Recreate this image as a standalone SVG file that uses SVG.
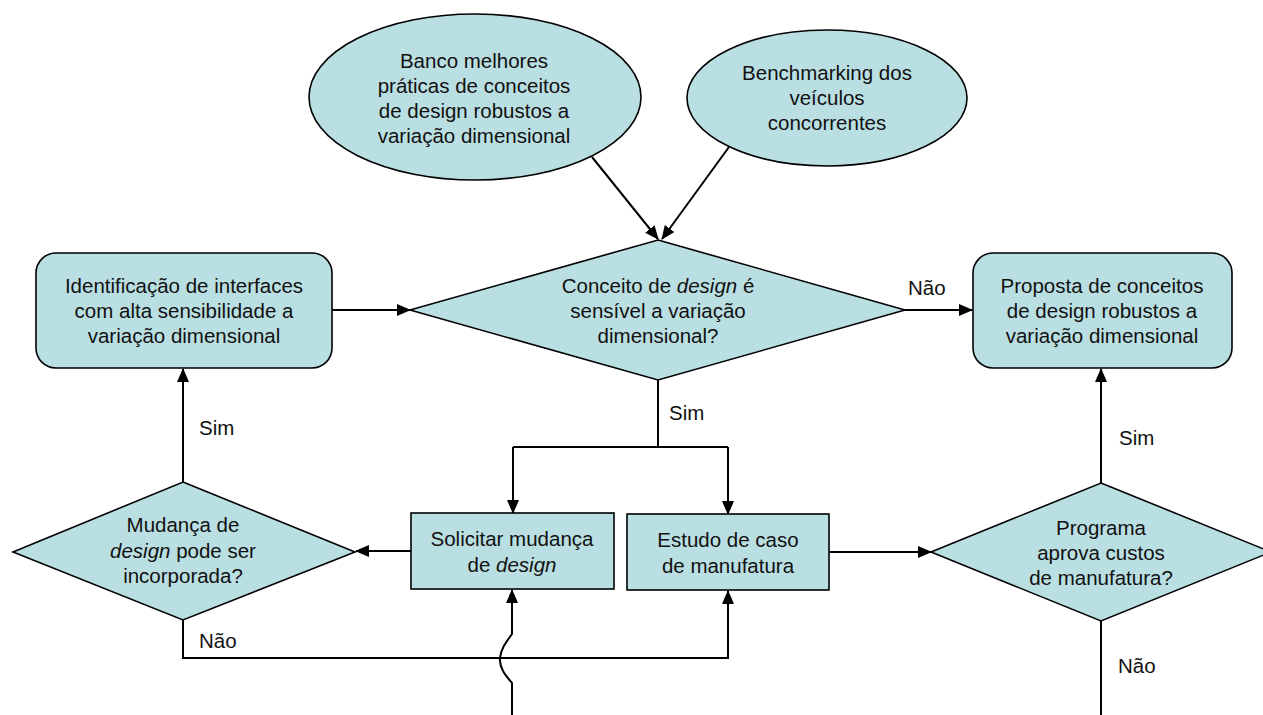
<svg xmlns="http://www.w3.org/2000/svg" width="1263" height="715" viewBox="0 0 1263 715">
  <defs>
    <marker id="arrow" markerUnits="userSpaceOnUse" markerWidth="14" markerHeight="12" viewBox="0 0 14 12" refX="13" refY="6" orient="auto">
      <path d="M0,0 L14,6 L0,12 Z" fill="#000"/>
    </marker>
    <style>
      .shape { fill: #badfe3; stroke: #000; stroke-width: 1.6; }
      .conn { fill: none; stroke: #000; stroke-width: 2; }
      .arr { marker-end: url(#arrow); }
      text { font-family: "Liberation Sans", Arial, sans-serif; font-size: 20.5px; fill: #111; text-anchor: middle; }
      .lbl { text-anchor: start; }
      .it { font-style: italic; }
    </style>
  </defs>
  <rect width="1263" height="715" fill="#fff"/>

  <!-- connectors -->
  <g id="connectors">
    <path class="conn arr" d="M592,157 L658,239"/>
    <path class="conn arr" d="M729,147 L662,239"/>
    <path class="conn arr" d="M332,310 L410,310"/>
    <path class="conn arr" d="M905,310 L972,310"/>
    <path class="conn" d="M658,380 V447 M513,447 H728"/>
    <path class="conn arr" d="M513,447 V513"/>
    <path class="conn arr" d="M728,447 V514"/>
    <path class="conn arr" d="M411,551 H356"/>
    <path class="conn arr" d="M183,482 V369"/>
    <path class="conn arr" d="M183,620 V658 H728 V591"/>
    <path class="conn arr" d="M512,715 V683 C506,676 499,668 500,658 C501,648 507,641 512,634 V590"/>
    <path class="conn arr" d="M829,552 H931"/>
    <path class="conn arr" d="M1101,483 V369"/>
    <path class="conn" d="M1101,621 V715"/>
    <text class="lbl" x="908" y="295">Não</text>
    <text class="lbl" x="669" y="420">Sim</text>
    <text class="lbl" x="199" y="435">Sim</text>
    <text class="lbl" x="199" y="648">Não</text>
    <text class="lbl" x="1119" y="445">Sim</text>
    <text class="lbl" x="1118" y="673">Não</text>
  </g>

  <g id="banco-praticas">
    <ellipse class="shape" cx="475" cy="97" rx="166" ry="83"/>
    <text x="474" y="68">Banco melhores</text>
    <text x="474" y="93">práticas de conceitos</text>
    <text x="474" y="118">de design robustos a</text>
    <text x="474" y="143">variação dimensional</text>
  </g>

  <g id="benchmarking">
    <ellipse class="shape" cx="827" cy="98" rx="140" ry="68"/>
    <text x="827" y="80">Benchmarking dos</text>
    <text x="827" y="105">veículos</text>
    <text x="827" y="130">concorrentes</text>
  </g>

  <g id="identificacao">
    <rect class="shape" x="36" y="253" width="296" height="115" rx="20"/>
    <text x="184" y="293">Identificação de interfaces</text>
    <text x="184" y="318">com alta sensibilidade a</text>
    <text x="184" y="343">variação dimensional</text>
  </g>

  <g id="conceito-sensivel">
    <polygon class="shape" points="658,240 905,310 658,380 410,310"/>
    <text x="658" y="293">Conceito de <tspan class="it">design</tspan> é</text>
    <text x="658" y="318">sensível a variação</text>
    <text x="658" y="343">dimensional?</text>
  </g>

  <g id="proposta">
    <rect class="shape" x="973" y="253" width="259" height="115" rx="20"/>
    <text x="1102" y="293">Proposta de conceitos</text>
    <text x="1102" y="318">de design robustos a</text>
    <text x="1102" y="343">variação dimensional</text>
  </g>

  <g id="solicitar-mudanca">
    <rect class="shape" x="411" y="513" width="203" height="76"/>
    <text x="512" y="546">Solicitar mudança</text>
    <text x="512" y="572">de <tspan class="it">design</tspan></text>
  </g>

  <g id="estudo-caso">
    <rect class="shape" x="627" y="514" width="202" height="76"/>
    <text x="728" y="547">Estudo de caso</text>
    <text x="728" y="573">de manufatura</text>
  </g>

  <g id="mudanca-incorporada">
    <polygon class="shape" points="183,482 355,552 183,620 13,552"/>
    <text x="183" y="532">Mudança de</text>
    <text x="183" y="558"><tspan class="it">design</tspan> pode ser</text>
    <text x="183" y="583">incorporada?</text>
  </g>

  <g id="programa-aprova">
    <polygon class="shape" points="1101,483 1271,552 1101,621 931,552"/>
    <text x="1101" y="535">Programa</text>
    <text x="1101" y="560">aprova custos</text>
    <text x="1101" y="585">de manufatura?</text>
  </g>
</svg>
